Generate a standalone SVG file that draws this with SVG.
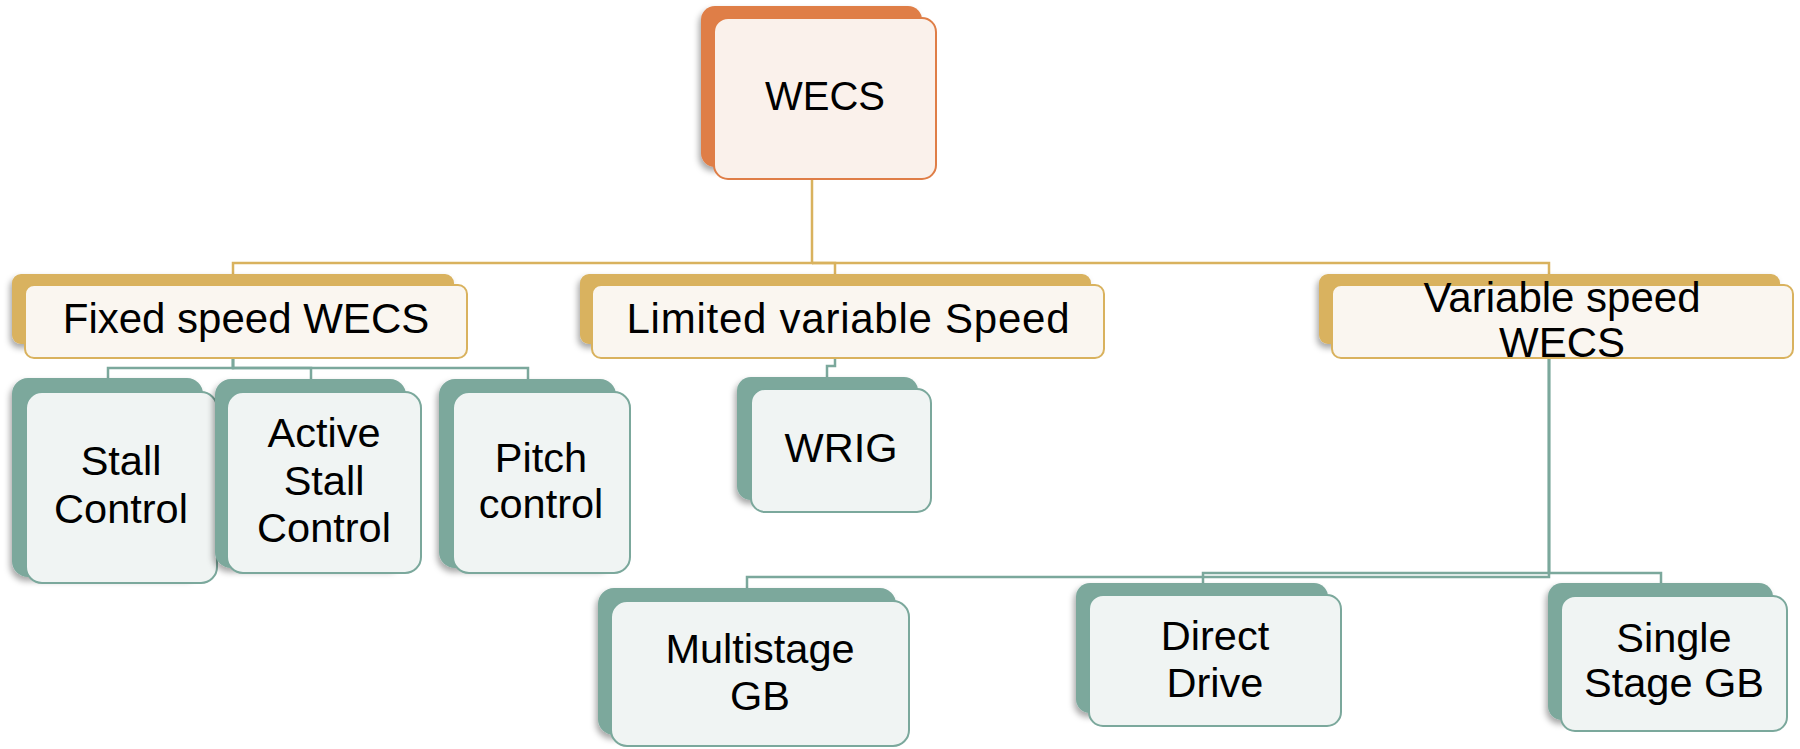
<svg xmlns="http://www.w3.org/2000/svg" width="1800" height="749" viewBox="0 0 1800 749">
<defs>
<filter id="sh" x="-10%" y="-10%" width="120%" height="130%">
<feDropShadow dx="-2" dy="4" stdDeviation="3" flood-color="#000" flood-opacity="0.35"/>
</filter>
<style>
.t{font-family:"Liberation Sans",Arial,sans-serif;fill:#000;text-anchor:middle}
.f40{font-size:40px}
.f41{font-size:41.5px}
.f42{font-size:42px}
.ob{fill:#DF7E47}
.of{fill:#FAF1EB;stroke:#DF7E47;stroke-width:2}
.gb{fill:#D9B25E}
.gf{fill:#FAF6F0;stroke:#D9B25E;stroke-width:2}
.tb{fill:#7BA89C}
.tf{fill:#F0F4F3;stroke:#7BA89C;stroke-width:2}
.gl{fill:none;stroke:#D9B25E;stroke-width:2.5}
.tl{fill:none;stroke:#7BA89C;stroke-width:2.5}
</style>
</defs>
<rect width="1800" height="749" fill="#fff"/>
<g id="connectors">
<path class="gl" d="M812 170V263H233V274"/>
<path class="gl" d="M812 263H835V274"/>
<path class="gl" d="M812 263H1549V274"/>
<path class="tl" d="M233 358V368H108V380"/>
<path class="tl" d="M233 358V368H311V380"/>
<path class="tl" d="M233 358V368H528V380"/>
<path class="tl" d="M835 358V366H827V378"/>
<path class="tl" d="M1549 358V577H747V589"/>
<path class="tl" d="M1549 358V573H1203V584"/>
<path class="tl" d="M1549 358V573H1661V584"/>
</g>
<g id="n-wecs">
<rect class="ob" x="701" y="6" width="221" height="161" rx="14" filter="url(#sh)"/>
<rect class="of" x="714" y="18" width="222" height="161" rx="14"/>
<text class="t f40" x="825" y="110">WECS</text>
</g>
<g id="n-fixed">
<rect class="gb" x="12" y="274" width="442" height="70" rx="9" filter="url(#sh)"/>
<rect class="gf" x="25" y="285" width="442" height="73" rx="9"/>
<text class="t f42" x="246" y="333">Fixed speed WECS</text>
</g>
<g id="n-limited">
<rect class="gb" x="580" y="274" width="511" height="70" rx="9" filter="url(#sh)"/>
<rect class="gf" x="592" y="285" width="512" height="73" rx="9"/>
<text class="t f42" x="848" y="333" textLength="443">Limited variable Speed</text>
</g>
<g id="n-variable">
<rect class="gb" x="1319" y="274" width="461" height="70" rx="9" filter="url(#sh)"/>
<rect class="gf" x="1332" y="285" width="461" height="73" rx="9"/>
<text class="t f42" x="1562" y="312">Variable speed</text>
<text class="t f42" x="1562" y="357">WECS</text>
</g>
<g id="n-stall">
<rect class="tb" x="12" y="378" width="191" height="199" rx="16" filter="url(#sh)"/>
<rect class="tf" x="26" y="392" width="191" height="191" rx="16"/>
<text class="t f41" x="121" y="475">Stall</text>
<text class="t f41" x="121" y="523">Control</text>
</g>
<g id="n-active">
<rect class="tb" x="215" y="379" width="191" height="189" rx="16" filter="url(#sh)"/>
<rect class="tf" x="227" y="392" width="194" height="181" rx="16"/>
<text class="t f41" x="324" y="447">Active</text>
<text class="t f41" x="324" y="495">Stall</text>
<text class="t f41" x="324" y="542">Control</text>
</g>
<g id="n-pitch">
<rect class="tb" x="439" y="379" width="177" height="189" rx="16" filter="url(#sh)"/>
<rect class="tf" x="453" y="392" width="177" height="181" rx="16"/>
<text class="t f41" x="541" y="472">Pitch</text>
<text class="t f41" x="541" y="518">control</text>
</g>
<g id="n-wrig">
<rect class="tb" x="737" y="377" width="181" height="123" rx="14" filter="url(#sh)"/>
<rect class="tf" x="751" y="389" width="180" height="123" rx="14"/>
<text class="t f41" x="841" y="462">WRIG</text>
</g>
<g id="n-multi">
<rect class="tb" x="598" y="588" width="298" height="147" rx="16" filter="url(#sh)"/>
<rect class="tf" x="611" y="601" width="298" height="145" rx="16"/>
<text class="t f41" x="760" y="663">Multistage</text>
<text class="t f41" x="760" y="710">GB</text>
</g>
<g id="n-direct">
<rect class="tb" x="1076" y="583" width="252" height="130" rx="14" filter="url(#sh)"/>
<rect class="tf" x="1089" y="595" width="252" height="131" rx="14"/>
<text class="t f41" x="1215" y="650">Direct</text>
<text class="t f41" x="1215" y="697">Drive</text>
</g>
<g id="n-single">
<rect class="tb" x="1548" y="583" width="225" height="137" rx="14" filter="url(#sh)"/>
<rect class="tf" x="1561" y="596" width="226" height="135" rx="14"/>
<text class="t f41" x="1674" y="652">Single</text>
<text class="t f41" x="1674" y="697">Stage GB</text>
</g>
</svg>
